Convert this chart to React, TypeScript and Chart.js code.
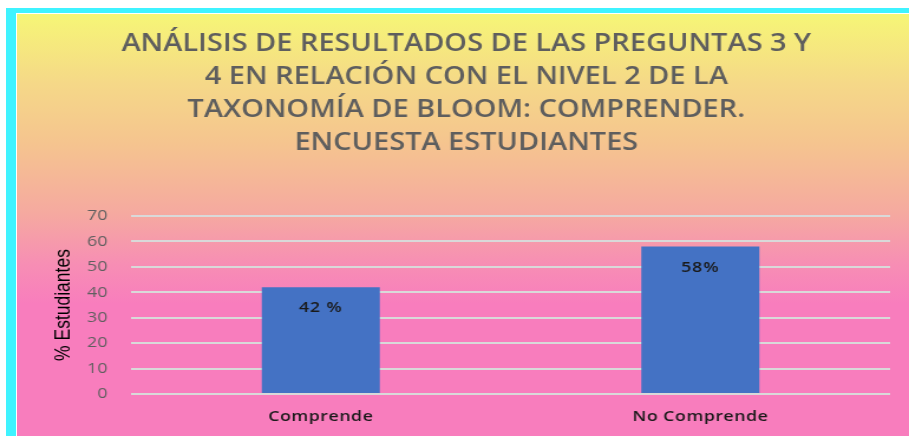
import React, { useEffect, useRef } from "react";
import { Chart, registerables } from "chart.js";

Chart.register(...registerables);

const categories = ["Comprende", "No Comprende"];
const values = [42, 58];
const valueLabels = ["42 %", "58%"];
const yTicks = [0, 10, 20, 30, 40, 50, 60, 70];
const titleLines = [
  "ANÁLISIS DE RESULTADOS DE LAS PREGUNTAS 3 Y",
  "4 EN RELACIÓN CON EL NIVEL 2 DE LA",
  "TAXONOMÍA DE BLOOM: COMPRENDER.",
  "ENCUESTA ESTUDIANTES",
];
const yAxisTitle = "% Estudiantes";

// the reference is horizontally stretched; draw on a narrower canvas and stretch it
const STRETCH = 1.18;
const VIEW_W = 909;
const VIEW_H = 436;
const CANVAS_W = Math.round(VIEW_W / STRETCH);

const valueLabelPlugin = {
  id: "valueLabels",
  afterDatasetsDraw(chart: any) {
    const ctx = chart.ctx;
    const meta = chart.getDatasetMeta(0);
    ctx.save();
    ctx.font = "600 15px 'Open Sans', sans-serif";
    ctx.fillStyle = "#1a1a1a";
    ctx.textAlign = "center";
    ctx.textBaseline = "middle";
    try { (ctx as any).letterSpacing = "0.8px"; } catch (e) {}
    meta.data.forEach((bar: any, i: number) => {
      ctx.fillText(valueLabels[i], bar.x, bar.y + 21);
    });
    ctx.restore();
  },
};

const spacedXLabels = {
  id: "spacedXLabels",
  afterLayout(chart: any) {
    const xs = chart.scales.x;
    if (!xs || xs.__patched) return;
    const orig = xs.drawLabels.bind(xs);
    xs.drawLabels = (area: any) => {
      const ctx = chart.ctx;
      ctx.save();
      try { (ctx as any).letterSpacing = "0.45px"; } catch (e) {}
      orig(area);
      ctx.restore();
    };
    xs.__patched = true;
  },
};

export default function App() {
  const ref = useRef<HTMLCanvasElement | null>(null);
  useEffect(() => {
    if (!ref.current) return;
    const chart = new Chart(ref.current, {
      type: "bar",
      data: {
        labels: categories,
        datasets: [
          {
            data: values,
            backgroundColor: "#4472C4",
            barPercentage: 0.311,
            categoryPercentage: 1,
          },
        ],
      },
      options: {
        animation: false,
        responsive: false,
        maintainAspectRatio: false,
        devicePixelRatio: 1,
        layout: { padding: { left: 36, right: 16, top: 28, bottom: -4 } },
        plugins: {
          legend: { display: false },
          tooltip: { enabled: false },
          title: {
            display: true,
            text: titleLines,
            color: "#5e5e5e",
            font: { family: "'Open Sans', sans-serif", size: 24.5, weight: "600", lineHeight: 1.347 },
            padding: { top: 0, bottom: 56 },
          },
        },
        scales: {
          x: {
            grid: { display: false, drawTicks: false },
            border: { display: false },
            ticks: {
              color: "#1a1a1a",
              font: { family: "'Open Sans', sans-serif", size: 15, weight: "600" },
              padding: 14,
            },
          },
          y: {
            min: 0,
            max: 70,
            afterBuildTicks(scale: any) {
              scale.ticks = yTicks.map((v) => ({ value: v }));
            },
            afterFit(scale: any) {
              scale.width = 75;
            },
            grid: { color: "#D9D9D9", lineWidth: 2, drawTicks: false },
            border: { display: false },
            ticks: {
              color: "#5f5f5f",
              font: { family: "'Open Sans', sans-serif", size: 15 },
              padding: 20,
            },
            title: {
              display: true,
              text: yAxisTitle,
              color: "#000000",
              font: { family: "'Liberation Sans', Arial, sans-serif", size: 17.5 },
              padding: { top: 8, bottom: 0 },
            },
          },
        },
      },
      plugins: [valueLabelPlugin, spacedXLabels],
    });
    return () => chart.destroy();
  }, []);

  return (
    <div
      style={{
        position: "fixed",
        left: 0,
        top: 0,
        width: VIEW_W,
        height: VIEW_H,
        background: "#ffffff",
        overflow: "hidden",
      }}
    >
      <div style={{ position: "absolute", left: 6, top: 8, width: 903, height: 5, background: "#3FF3FF" }} />
      <div style={{ position: "absolute", left: 6, top: 8, width: 10, height: 428, background: "#3FF3FF" }} />
      <div
        style={{
          position: "absolute",
          left: 17,
          top: 14,
          width: 892,
          height: 422,
          background:
            "linear-gradient(to bottom, #F6F676 0px, #F5D888 70px, #F5C48F 130px, #F5A9A0 200px, #F78EB4 250px, #F87DBD 290px, #F87DBD 422px)",
        }}
      />
      <canvas
        ref={ref}
        width={CANVAS_W}
        height={VIEW_H}
        style={{ position: "absolute", left: 0, top: 0, width: VIEW_W, height: VIEW_H }}
      />
    </div>
  );
}
